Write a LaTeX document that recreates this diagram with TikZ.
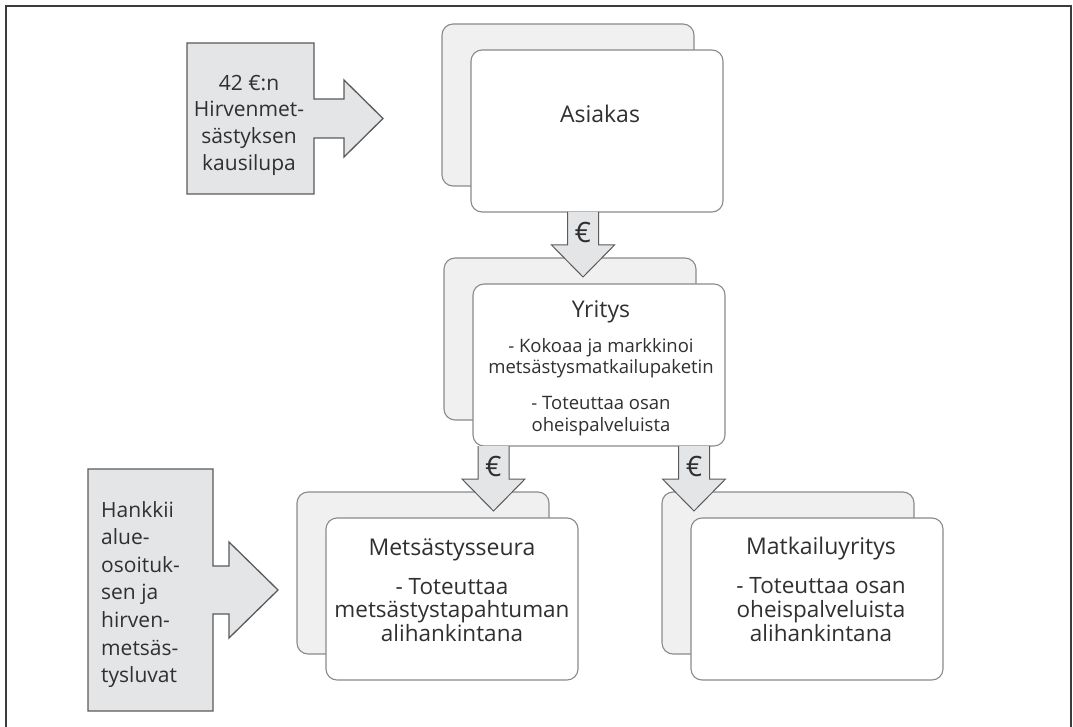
\documentclass[tikz,border=0pt]{standalone}
\usepackage{fontspec}
\setmainfont{Open Sans}
\usetikzlibrary{calc}

\definecolor{ink}{HTML}{303030}
\definecolor{cardedge}{HTML}{8A8A8A}
\definecolor{backfill}{HTML}{F0F0F0}
\definecolor{arrowfill}{HTML}{E4E5E7}
\definecolor{arrowedge}{HTML}{5A5A5A}
\definecolor{frameline}{HTML}{3C3C3C}

\tikzset{
  card/.style={draw=cardedge, line width=1.1pt, rounded corners=11pt,
    minimum width=252pt, minimum height=162pt, inner sep=0pt, outer sep=0pt},
  frontcard/.style={card, fill=white},
  backcard/.style={card, fill=backfill},
  txt/.style={text=ink, inner sep=0pt, anchor=base},
  titletxt/.style={txt, font=\fontsize{23}{27}\selectfont},
  bodytxt/.style={txt, font=\fontsize{22.5}{26}\selectfont},
  smalltxt/.style={txt, font=\fontsize{18.5}{22}\selectfont},
  calltxt/.style={txt, font=\fontsize{21}{27}\selectfont},
  euro/.style={text=ink, inner sep=0pt, font=\fontsize{28}{28}\selectfont},
  blockarrow/.style={draw=arrowedge, fill=arrowfill, line width=1pt, line join=miter},
  calloutbox/.style={draw=none, inner sep=0pt, outer sep=0pt},
  callout/.style={draw=arrowedge, fill=arrowfill, line width=1.3pt, line join=miter},
}

% a downward money arrow hanging from a point
\newcommand{\moneyarrow}[2]{%
  \coordinate (#1) at #2;
  \filldraw[blockarrow] ($(#1)+(-15.5,0)$) -- ++(0,33) -- ++(-16,0)
    -- ($(#1)+(0,65)$) -- ($(#1)+(31.5,33)$) -- ++(-16,0) -- ($(#1)+(15.5,0)$);
  \node[euro] (#1-eur) at ($(#1)+(0,20)$) {€};
}

\begin{document}
\begin{tikzpicture}[x=1pt, y=-1pt]
\useasboundingbox (0,0) rectangle (1073,727);

% outer frame, open at the bottom edge
\draw[frameline, line width=2pt] (6,727) -- (6,6) -- (1071,6) -- (1071,727);

% stacked cards
\node[backcard]  (asi-back) at (568,105) {};
\node[frontcard] (asi)      at (597,131) {};
\node[backcard]  (yri-back) at (570,339) {};
\node[frontcard] (yri)      at (599,365) {};
\node[backcard]  (met-back) at (423,573) {};
\node[frontcard] (met)      at (452,599) {};
\node[backcard]  (mat-back) at (788,573) {};
\node[frontcard] (mat)      at (817,599) {};

% card texts
\node[titletxt] (asi-t) at ($(asi.center)+(3,-8)$) {Asiakas};

\node[titletxt] (yri-t) at ($(yri.center)+(2,-48)$) {Yritys};
\foreach \n/\dy/\t in {1/-13/- Kokoaa ja markkinoi, 2/8/metsästysmatkailupaketin,
                      3/44/- Toteuttaa osan, 4/66/oheispalveluista}
  \node[smalltxt] (yri-\n) at ($(yri.center)+(2,\dy)$) {\t};

\node[titletxt] (met-t) at ($(met.center)+(0,-44)$) {Metsästysseura};
\foreach \n/\dy/\t in {1/-5/- Toteuttaa, 2/18.5/metsästystapahtuman, 3/42.5/alihankintana}
  \node[bodytxt] (met-\n) at ($(met.center)+(0,\dy)$) {\t};

\node[titletxt] (mat-t) at ($(mat.center)+(4,-45)$) {Matkailuyritys};
\foreach \n/\dy/\t in {1/-6/- Toteuttaa osan, 2/18.5/oheispalveluista, 3/42.5/alihankintana}
  \node[bodytxt] (mat-\n) at ($(mat.center)+(4,\dy)$) {\t};

% money flows
\moneyarrow{pay1}{($(asi.south)+(-14,0)$)}
\moneyarrow{pay2}{($(yri.south)+(-105.5,0)$)}
\moneyarrow{pay3}{($(yri.south)+(95,0)$)}

% licence callout
\node[calloutbox, minimum width=127pt, minimum height=151pt] (lic) at (250.5,118.5) {};
\filldraw[callout] (lic.north west) -- (lic.north east) -- ($(lic.east)+(0,-19.5)$)
  -- ($(lic.east)+(30,-19.5)$) -- ($(lic.east)+(30,-38.5)$) -- ($(lic.east)+(69,0)$)
  -- ($(lic.east)+(30,38.5)$) -- ($(lic.east)+(30,19.5)$) -- ($(lic.east)+(0,19.5)$)
  -- (lic.south east) -- (lic.south west) -- cycle;
\foreach \n/\dy/\t in {1/-27.5/42 €:n, 2/-1.5/Hirvenmet-, 3/25.5/sästyksen, 4/52.5/kausilupa}
  \node[calltxt] (lic-\n) at ($(lic.center)+(-1.5,\dy)$) {\t};

% hunting-rights callout
\node[calloutbox, minimum width=125pt, minimum height=242pt] (club) at (150.5,590) {};
\filldraw[callout] (club.north west) -- (club.north east) -- ($(club.east)+(0,-24)$)
  -- ($(club.east)+(16,-24)$) -- ($(club.east)+(16,-48)$) -- ($(club.east)+(65,0)$)
  -- ($(club.east)+(16,48)$) -- ($(club.east)+(16,24)$) -- ($(club.east)+(0,24)$)
  -- (club.south east) -- (club.south west) -- cycle;
\foreach \n/\t [count=\k from 0] in {1/Hankkii, 2/alue-, 3/osoituk-, 4/sen ja,
                                    5/hirven-, 6/metsäs-, 7/tysluvat}
  \node[calltxt, anchor=base west] (club-\n) at ($(club.west)+(13,-73+27.65*\k)$) {\t};

\end{tikzpicture}
\end{document}
